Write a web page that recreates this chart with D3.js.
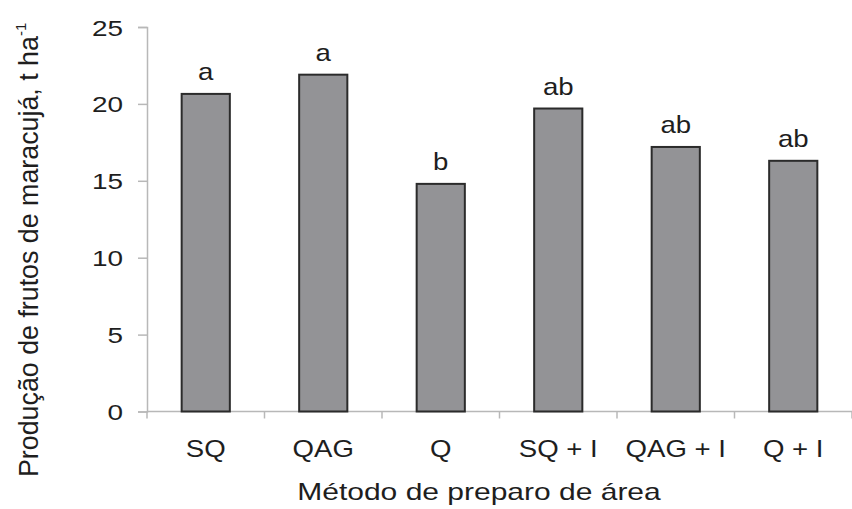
<!DOCTYPE html>
<html>
<head>
<meta charset="utf-8">
<script src="https://cdn.jsdelivr.net/npm/d3@7"></script>
<style>
  html, body { margin: 0; padding: 0; background: #fff; }
  svg { display: block; font-family: "Liberation Sans", Arial, Helvetica, sans-serif; }
</style>
</head>
<body>
<svg id="chart" width="852" height="509"></svg>
<script>
// Yield of passion fruit by land-preparation method
const categories = ["SQ", "QAG", "Q", "SQ + I", "QAG + I", "Q + I"];
const yieldValues = [20.65, 21.9, 14.8, 19.7, 17.2, 16.3];
const groupLetters = ["a", "a", "b", "ab", "ab", "ab"];
const yTicks = [0, 5, 10, 15, 20, 25];

const svg = d3.select("#chart");
const margin = { left: 147, right: 0, top: 27, bottom: 97 };
const W = 852, H = 509;

const x = d3.scaleBand()
  .domain(categories)
  .range([margin.left, W - margin.right])
  .paddingInner(0.59)
  .paddingOuter(0.295);

const y = d3.scaleLinear()
  .domain([0, 25])
  .range([H - margin.bottom - 0.5, margin.top]);

const axisColor = "#b8b8b8";
const textColor = "#1e1e1e";

// wide-set lettering: glyphs are drawn horizontally widened
function widened(sel, sx) {
  sel.each(function () {
    const t = d3.select(this);
    const tx = +t.attr("x") || 0;
    const ty = +t.attr("y") || 0;
    t.attr("x", 0).attr("y", 0)
     .attr("transform", `translate(${tx},${ty}) scale(${sx},1)`);
  });
}

// y axis
const yAxis = svg.append("g")
  .attr("transform", `translate(${margin.left},0)`)
  .call(d3.axisLeft(y).tickValues(yTicks).tickSize(9).tickPadding(14).tickFormat(d3.format("d")));
yAxis.select(".domain").attr("stroke", axisColor).attr("stroke-width", 1.5);
yAxis.selectAll(".tick line").attr("stroke", axisColor).attr("stroke-width", 1.5);
yAxis.selectAll(".tick text")
  .attr("fill", textColor)
  .attr("x", -24)
  .attr("dy", null)
  .attr("y", 8)
  .style("font-size", "22px")
  .style("font-family", "'Liberation Sans', Arial, sans-serif")
  .call(widened, 1.27);

// x axis: ticks sit on band boundaries
const bounds = d3.range(categories.length + 1)
  .map(i => margin.left + i * (W - margin.left - margin.right) / categories.length);
const xAxisG = svg.append("g");
xAxisG.append("line")
  .attr("x1", margin.left).attr("x2", W)
  .attr("y1", y(0)).attr("y2", y(0))
  .attr("stroke", axisColor).attr("stroke-width", 1.5);
xAxisG.selectAll("line.tk")
  .data(bounds)
  .join("line")
  .attr("class", "tk")
  .attr("x1", d => d).attr("x2", d => d)
  .attr("y1", y(0)).attr("y2", y(0) + 7)
  .attr("stroke", axisColor).attr("stroke-width", 1.5);
xAxisG.selectAll("text")
  .data(categories)
  .join("text")
  .attr("x", d => x(d) + x.bandwidth() / 2)
  .attr("y", y(0) + 45)
  .attr("text-anchor", "middle")
  .attr("fill", textColor)
  .style("font-size", "24px")
  .text(d => d)
  .call(widened, 1.15);

// bars
const data = categories.map((c, i) => ({ c, v: yieldValues[i], g: groupLetters[i] }));
svg.append("g")
  .selectAll("rect")
  .data(data)
  .join("rect")
  .attr("x", d => x(d.c))
  .attr("y", d => y(d.v))
  .attr("width", x.bandwidth())
  .attr("height", d => y(0) - y(d.v))
  .attr("fill", "#939396")
  .attr("stroke", "#2b2b2b")
  .attr("stroke-width", 2);

// significance letters
svg.append("g")
  .selectAll("text")
  .data(data)
  .join("text")
  .attr("x", d => x(d.c) + x.bandwidth() / 2)
  .attr("y", d => y(d.v) - 14)
  .attr("text-anchor", "middle")
  .attr("fill", textColor)
  .style("font-size", "24px")
  .text(d => d.g)
  .call(widened, 1.15);

// axis titles
svg.append("text")
  .attr("x", 479)
  .attr("y", 500)
  .attr("text-anchor", "middle")
  .attr("fill", textColor)
  .style("font-size", "24px")
  .text("Método de preparo de área")
  .call(widened, 1.25);

const yt = svg.append("text")
  .attr("transform", "translate(38,477) rotate(-90)")
  .attr("text-anchor", "start")
  .attr("fill", textColor)
  .style("font-size", "26.8px");
yt.append("tspan").text("Produção de frutos de maracujá, t ha");
yt.append("tspan").attr("dy", -12).style("font-size", "15px").text("-1");
</script>
</body>
</html>
